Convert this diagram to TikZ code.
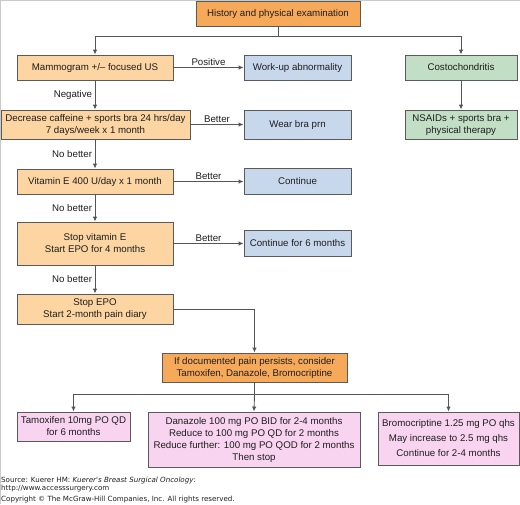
\documentclass[tikz,border=0pt]{standalone}
\usepackage{fontspec}
\setmainfont{Liberation Sans}
\newfontfamily\srcfont{DejaVu Sans}
\usetikzlibrary{arrows.meta}
\definecolor{lorange}{HTML}{FDD5A2}
\definecolor{dorange}{HTML}{F7A95A}
\definecolor{lblue}{HTML}{C8D8EC}
\definecolor{lgreen}{HTML}{C2DEC4}
\definecolor{lpink}{HTML}{F8D4F0}
\definecolor{edgegray}{HTML}{5A5A5A}
\definecolor{linegray}{HTML}{555555}
\definecolor{txt}{HTML}{1E1E1E}
\definecolor{framegray}{HTML}{C8CCC8}
\tikzset{
  box/.style={draw=edgegray, line width=0.9pt, align=center, inner sep=1pt,
    font=\fontsize{9.7}{12}\selectfont, text=txt},
  obox/.style={box, fill=lorange},
  dbox/.style={box, fill=dorange},
  bbox/.style={box, fill=lblue},
  gbox/.style={box, fill=lgreen},
  pbox/.style={box, fill=lpink},
  conn/.style={draw=linegray, line width=0.9pt},
  arr/.style={conn, -{Latex[length=5pt,width=4.5pt]}},
  lab/.style={font=\fontsize{9.7}{12}\selectfont, text=txt, inner sep=1.5pt},
  src/.style={anchor=west, inner sep=0pt, font=\srcfont\fontsize{7.1}{8.5}\selectfont, text=txt, align=left},
}
\begin{document}
\begin{tikzpicture}[x=1pt,y=-1pt]
\useasboundingbox (0,0) rectangle (520,504);
\fill[white] (0,0) rectangle (520,504);
\draw[framegray, line width=1pt] (0.5,504) -- (0.5,0.5) -- (520,0.5);

\node[dbox, minimum width=164pt, minimum height=25pt] (hist) at (278,13.5) {History and physical examination};
\node[obox, minimum width=156pt, minimum height=25pt] (mam) at (95,67.5) {Mammogram +/\textendash{} focused US};
\node[bbox, minimum width=107pt, minimum height=25pt] (work) at (297.5,67.5) {Work-up abnormality};
\node[gbox, minimum width=112pt, minimum height=25pt] (costo) at (461,67.5) {Costochondritis};
\node[obox, minimum width=189pt, minimum height=29pt] (caff) at (95.5,124.5) {Decrease caffeine + sports bra 24 hrs/day\\7 days/week x 1 month};
\node[bbox, minimum width=107pt, minimum height=29pt] (wear) at (297.5,124.5) {Wear bra prn};
\node[gbox, minimum width=112pt, minimum height=29pt] (nsaid) at (461,124.5) {NSAIDs + sports bra +\\physical therapy};
\node[obox, minimum width=156pt, minimum height=25pt] (vite) at (95,181.5) {Vitamin E 400 U/day x 1 month};
\node[bbox, minimum width=107pt, minimum height=26pt] (cont) at (297.5,181.5) {Continue};
\node[obox, minimum width=156pt, minimum height=43pt] (stope) at (95,243.5) {Stop vitamin E\\Start EPO for 4 months};
\node[bbox, minimum width=107pt, minimum height=26pt] (cont6) at (297.5,243.5) {Continue for 6 months};
\node[obox, minimum width=156pt, minimum height=30pt] (stopepo) at (95,309) {Stop EPO\\Start 2-month pain diary};
\node[dbox, minimum width=185pt, minimum height=29pt] (ifdoc) at (254.5,367.5) {If documented pain persists, consider\\Tamoxifen, Danazole, Bromocriptine};
\node[pbox, minimum width=113pt, minimum height=29pt] (tam) at (73.5,426.5) {Tamoxifen 10mg PO QD\\for 6 months};
\node[pbox, minimum width=212pt, minimum height=55pt] (dan) at (254,439.5) {Danazole 100 mg PO BID for 2-4 months\\Reduce to 100 mg PO QD for 2 months\\Reduce further: 100 mg PO QOD for 2 months\\Then stop};
\node[pbox, minimum width=141pt, minimum height=53pt, font=\fontsize{9.7}{15}\selectfont] (bro) at (448.5,438.5) {Bromocriptine 1.25 mg PO qhs\\May increase to 2.5 mg qhs\\Continue for 2-4 months};

% connectors
\draw[conn] (hist.south) -- ++(0,10) coordinate (j1);
\draw[arr] (j1) -| (mam.north);
\draw[arr] (j1) -| (costo.north);
\draw[arr] (mam.east) -- node[lab, above] {Positive} (work.west);
\draw[arr] (mam.south) -- node[lab, left, xshift=-1pt] {Negative} (mam.south |- caff.north);
\draw[arr] (caff.east) -- node[lab, above] {Better} (wear.west);
\draw[arr] (costo.south) -- (nsaid.north);
\draw[arr] (mam.south |- caff.south) -- node[lab, left, xshift=-1pt] {No better} (vite.north);
\draw[arr] (vite.east) -- node[lab, above] {Better} (cont.west);
\draw[arr] (vite.south) -- node[lab, left, xshift=-1pt] {No better} (stope.north);
\draw[arr] (stope.east) -- node[lab, above] {Better} (cont6.west);
\draw[arr] (stope.south) -- node[lab, left, xshift=-1pt] {No better} (stopepo.north);
\draw[arr] (stopepo.east) -| (ifdoc.north);
\draw[conn] (ifdoc.south) -- ++(0,12) coordinate (j2);
\draw[arr] (j2) -| (tam.north);
\draw[arr] (j2) -- (dan.north);
\draw[arr] (j2) -| (bro.north);

% source
\node[src] (source) at (1,484.5) {Source: Kuerer HM: \textit{Kuerer's Breast Surgical Oncology}:\\http://www.accesssurgery.com};
\node[src] (copy) at (1,500) {Copyright \textcopyright{} The McGraw-Hill Companies, Inc. All rights reserved.};
\end{tikzpicture}
\end{document}
